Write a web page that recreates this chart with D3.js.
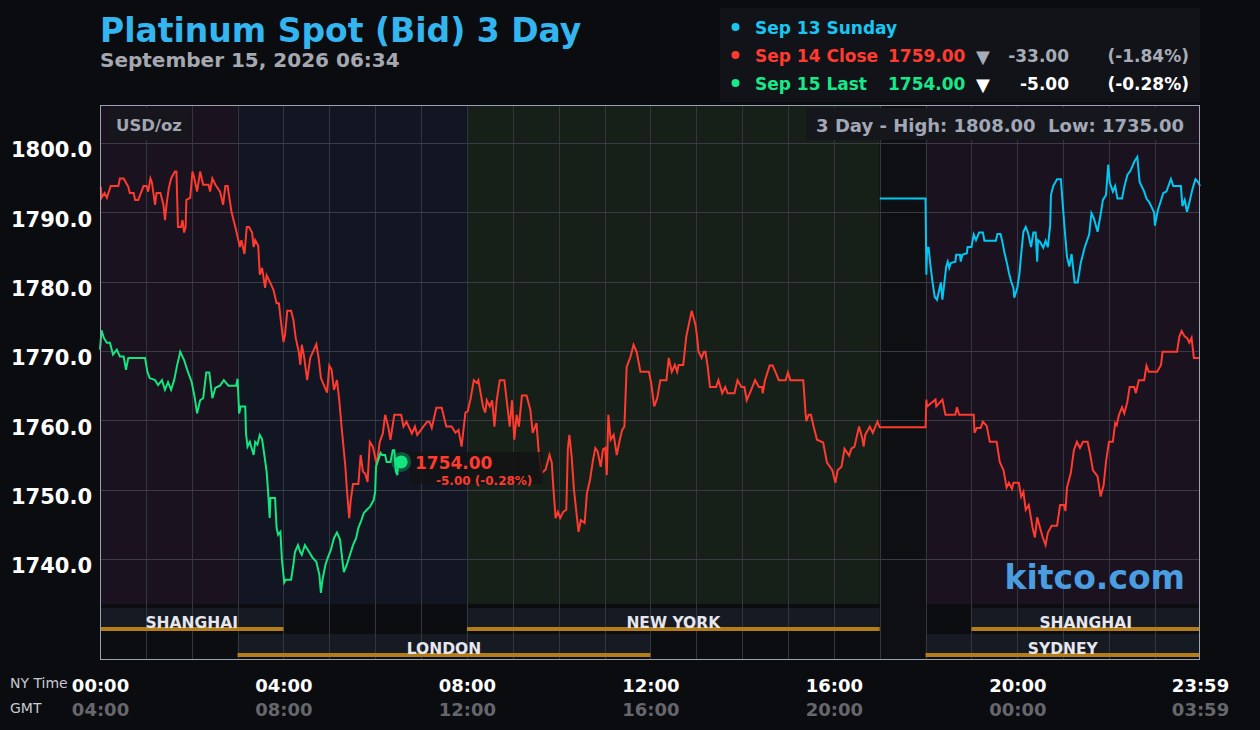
<!DOCTYPE html>
<html><head><meta charset="utf-8">
<script src="https://cdn.jsdelivr.net/npm/d3@7"></script>
<style>
html,body{margin:0;padding:0;background:#0b0c10;}
svg{display:block;font-family:"DejaVu Sans",sans-serif;}
</style></head><body><svg id="c" width="1260" height="730"></svg>
<script>
// ---- data ----
const yTicks = [1740, 1750, 1760, 1770, 1780, 1790, 1800];
const xTickMinutes = [0, 240, 480, 720, 960, 1200, 1439];
const nyLabels = ["00:00", "04:00", "08:00", "12:00", "16:00", "20:00", "23:59"];
const gmtLabels = ["04:00", "08:00", "12:00", "16:00", "20:00", "00:00", "03:59"];
const bandNames = ["pre", "london", "newyork", "closed", "asia"];
const bandStarts = [0, 180, 480, 1020, 1080];
const bandEnds = [180, 480, 1020, 1080, 1439];
const sessionNames = ["SHANGHAI", "NEW YORK", "SHANGHAI", "LONDON", "SYDNEY"];
const sessionRows = [0, 0, 0, 1, 1];
const sessionStarts = [0, 480, 1140, 180, 1080];
const sessionEnds = [240, 1020, 1439, 720, 1439];

// [minute of NY day, price]
const sep13Sunday = [[1020,1792],[1080,1792],[1081,1781],[1082,1784.9],[1084,1784.9],[1086,1782.7],[1089,1780],[1092,1777.8],[1095,1777.4],[1100,1779.9],[1102,1777.4],[1104,1779.3],[1107,1782.2],[1109,1782.9],[1111,1782],[1113,1782.7],[1119,1782.9],[1120,1783.9],[1125,1783.9],[1126,1782.9],[1128,1783.9],[1134,1784.1],[1135,1785],[1140,1785],[1143,1786.8],[1146,1786],[1150,1787.1],[1155,1787.1],[1157,1785.9],[1172,1785.9],[1174,1786.9],[1178,1786.9],[1180,1786],[1183,1784.3],[1187,1782.4],[1189,1781.3],[1192,1780],[1195,1779.1],[1196,1777.7],[1200,1779.1],[1203,1781.4],[1205,1783.9],[1208,1787.2],[1211,1787.9],[1214,1787.1],[1218,1785],[1221,1787.1],[1224,1787.1],[1226,1782.9],[1227,1786],[1230,1785.7],[1234,1784.9],[1237,1785.9],[1240,1785],[1243,1788.2],[1244,1792.5],[1247,1793.8],[1252,1794.8],[1257,1794.8],[1259,1791.8],[1262,1787.5],[1265,1783.6],[1268,1782.2],[1271,1784],[1273,1782],[1275,1779.9],[1279,1779.9],[1283,1782.7],[1288,1784.9],[1294,1786.8],[1297,1789.9],[1300,1789.2],[1305,1787.2],[1309,1789.7],[1312,1791.8],[1316,1792.5],[1319,1796.9],[1321,1794.3],[1325,1793],[1328,1793.8],[1331,1792],[1337,1792],[1340,1793.7],[1344,1795.4],[1348,1796],[1353,1797.3],[1357,1798],[1360,1794.4],[1363,1793.7],[1366,1793],[1369,1792],[1373,1791.4],[1379,1790],[1380,1788.1],[1384,1790.4],[1387,1791.4],[1391,1792.8],[1395,1793],[1401,1794.8],[1404,1793.8],[1414,1793.8],[1416,1790.9],[1419,1791.8],[1422,1790.1],[1425,1791.4],[1429,1793.3],[1433,1794.8],[1437,1794.3],[1439,1793.8]];

const sep14Close = [[1,1793.7],[2,1792.1],[6,1792.8],[9,1792.1],[11,1792.8],[14,1793.8],[24,1793.8],[26,1794.9],[31,1794.9],[37,1793.7],[39,1792.8],[44,1792.8],[46,1791.8],[50,1791.8],[57,1793.8],[61,1793.8],[63,1793],[66,1794.9],[68,1794.3],[72,1791.1],[74,1792.8],[79,1792.8],[83,1791.1],[85,1788.9],[87,1791.1],[90,1793.5],[93,1794.9],[98,1795.9],[100,1795.9],[102,1787.9],[106,1787.9],[108,1788.9],[110,1787.1],[112,1787.9],[113,1791.8],[118,1792.1],[121,1795.9],[123,1795.1],[127,1793],[131,1795.9],[135,1794],[142,1794],[144,1793],[147,1794.9],[151,1794],[157,1793],[161,1791.1],[164,1793.8],[167,1793.8],[169,1792.3],[172,1790.1],[177,1787.9],[181,1786],[183,1785],[185,1786],[189,1784],[192,1787.9],[195,1787.9],[199,1787.1],[201,1785],[203,1786],[207,1785.2],[209,1781],[212,1782],[216,1779.1],[218,1780.9],[223,1779.8],[227,1778.8],[231,1776.9],[234,1776.9],[237,1774],[240,1771.3],[242,1772.3],[245,1775.8],[250,1775.8],[253,1774.5],[256,1771.9],[260,1769.9],[262,1768],[264,1770.9],[267,1769.2],[271,1765.8],[275,1769],[283,1771],[286,1769],[289,1766.1],[297,1764],[300,1767.9],[303,1767.3],[306,1764.4],[310,1765.8],[313,1762.9],[316,1759.1],[321,1753.3],[323,1750],[326,1745.9],[328,1748.5],[331,1750.8],[338,1750.8],[341,1755],[344,1752.6],[347,1752.3],[350,1751.1],[353,1756.9],[357,1756.2],[362,1753.6],[366,1756.9],[370,1758.1],[373,1760.8],[377,1759.1],[380,1757.2],[385,1760.8],[394,1760.8],[397,1759.1],[401,1759.8],[408,1758.1],[412,1759.1],[415,1757.9],[423,1759.1],[428,1759.8],[431,1759.8],[434,1758.9],[440,1761.8],[447,1761.8],[453,1759.1],[460,1759.1],[465,1758.2],[469,1758.6],[473,1756.2],[478,1761.1],[481,1761.3],[485,1763.2],[489,1765.8],[493,1765.4],[495,1765.8],[498,1763.9],[501,1762],[504,1761.1],[506,1762.9],[510,1762],[513,1762.9],[516,1759.1],[519,1762.9],[523,1765.8],[529,1765.8],[532,1762.9],[536,1759.1],[539,1762.9],[542,1757.2],[545,1760.8],[548,1759.1],[552,1763.6],[558,1763.6],[563,1761.5],[566,1758.2],[571,1759.6],[574,1755.3],[578,1752.4],[583,1752.9],[588,1755],[591,1753.9],[593,1750.4],[596,1745.9],[599,1746.8],[602,1745.9],[606,1746.8],[610,1747.1],[612,1755.8],[614,1757.9],[617,1754.8],[620,1750],[626,1743.9],[629,1745.6],[634,1745.2],[637,1749.5],[641,1751.4],[645,1754.3],[648,1756],[651,1755.5],[655,1753.3],[658,1755.8],[661,1756],[663,1752.1],[665,1760.8],[668,1757.2],[672,1757.9],[676,1755],[680,1757.2],[683,1758.6],[686,1759.1],[689,1767.7],[694,1769.2],[698,1770.9],[702,1769.9],[707,1767],[718,1767],[721,1765.4],[725,1762],[729,1763.2],[733,1765.8],[741,1765.8],[744,1769],[748,1767],[752,1768],[755,1767],[757,1768],[763,1768],[764,1769],[767,1772.1],[774,1775.8],[779,1773.8],[781,1772.1],[783,1769.9],[787,1769],[790,1769.9],[792,1769.9],[795,1767.7],[798,1764.8],[806,1764.8],[809,1765.8],[814,1763.9],[818,1764.8],[821,1763.9],[830,1763.9],[834,1765.8],[839,1764.8],[843,1764.8],[846,1762.9],[850,1763.9],[857,1765.8],[862,1764.8],[866,1764.8],[867,1763.9],[870,1765.8],[876,1767.9],[880,1767.9],[884,1766.9],[888,1765.8],[897,1765.8],[900,1766.9],[903,1765.8],[920,1765.8],[923,1761],[924,1759.9],[927,1760.8],[930,1760.8],[934,1758.9],[938,1757.2],[946,1756.8],[951,1753.9],[958,1752.8],[962,1751],[965,1752.8],[970,1753.3],[974,1755.9],[980,1754.9],[983,1755.9],[987,1756.2],[993,1759.1],[997,1757.5],[999,1756.2],[1001,1757.9],[1007,1759.1],[1011,1758.2],[1017,1759.8],[1020,1759],[1080,1759],[1081,1763],[1082,1762],[1093,1763],[1094,1762],[1102,1763],[1106,1760.8],[1119,1760.8],[1121,1761.9],[1124,1760.8],[1143,1760.8],[1144,1758.2],[1147,1758.9],[1152,1758.9],[1155,1759.8],[1160,1759.2],[1164,1756.9],[1173,1756.9],[1177,1754],[1182,1752.8],[1186,1750.3],[1189,1751],[1193,1750.1],[1195,1751],[1202,1751],[1205,1749],[1208,1749.7],[1211,1747.1],[1215,1747.8],[1220,1744.5],[1223,1743.1],[1226,1746],[1233,1743.2],[1237,1742],[1240,1743.8],[1245,1744.8],[1252,1744.8],[1256,1747.8],[1261,1747.8],[1263,1746.9],[1265,1750.3],[1270,1752.4],[1274,1755.7],[1278,1756.9],[1282,1756],[1286,1756.9],[1292,1756.9],[1295,1755.3],[1299,1752.8],[1305,1751.9],[1309,1749],[1313,1750.7],[1316,1754],[1320,1756.9],[1325,1756.9],[1328,1759.6],[1330,1759.3],[1333,1760.8],[1337,1761.9],[1340,1761],[1344,1762.7],[1347,1764.8],[1353,1764.8],[1355,1763.9],[1359,1765.8],[1366,1765.8],[1369,1767.9],[1372,1767],[1383,1767],[1388,1768],[1390,1769.9],[1409,1769.9],[1412,1772.1],[1415,1772.9],[1419,1772.1],[1422,1771.9],[1425,1771.2],[1428,1771.9],[1431,1769],[1439,1769]];

const sep15Last = [[0,1770.2],[2,1773],[5,1771.9],[9,1771.2],[13,1771.2],[17,1769.5],[22,1770.2],[26,1769.2],[31,1769.2],[34,1767.3],[37,1769],[52,1769],[59,1769],[62,1767],[65,1766.1],[72,1765.8],[76,1765.1],[81,1765.8],[85,1764.4],[89,1765.5],[93,1764.4],[97,1765.8],[101,1768],[105,1769.9],[110,1768.7],[115,1767],[120,1765.5],[124,1763.2],[127,1761],[131,1762.9],[135,1763.2],[139,1766.9],[143,1766.9],[147,1763.2],[151,1764.7],[157,1765],[162,1765.8],[168,1765],[178,1765],[180,1766],[182,1761],[184,1762],[190,1762],[191,1758.1],[193,1756.2],[196,1756.9],[201,1755],[203,1756.9],[206,1756.5],[209,1757.9],[212,1757.3],[215,1755],[218,1752.6],[220,1749.5],[222,1745.9],[223,1748.8],[229,1748.8],[231,1744.5],[233,1743.5],[236,1743.9],[238,1739.9],[241,1736.6],[243,1737],[250,1737],[253,1739.2],[255,1741],[259,1742],[262,1741],[264,1740.6],[268,1742],[272,1741.3],[278,1740.2],[283,1739.6],[287,1737.7],[289,1735.1],[291,1737],[295,1739.2],[298,1740.2],[302,1741.3],[306,1743],[310,1743.8],[314,1742.8],[317,1739.9],[319,1738.1],[323,1739.2],[327,1740.6],[331,1742],[335,1743],[338,1744.5],[342,1745.6],[345,1746.6],[349,1747.1],[353,1747.5],[358,1748.5],[360,1749.7],[361,1753.3],[364,1754.3],[367,1755.3],[369,1755],[373,1755],[375,1754],[380,1754],[383,1755.7],[385,1755.7],[387,1752.6],[389,1752.1],[390,1754],[394,1754]];

const legendLabels = ["Sep 13 Sunday", "Sep 14 Close", "Sep 15 Last"];
const legendPrices = [null, "1759.00", "1754.00"];
const legendChanges = [null, "-33.00", "-5.00"];
const legendPcts = [null, "(-1.84%)", "(-0.28%)"];
const lastValue = "1754.00";
const lastChange = "-5.00 (-0.28%)";
const highLowText = "3 Day - High: 1808.00  Low: 1735.00";

// ---- drawing ----
const svg = d3.select("#c");
const L = 100, R = 1200, T = 105, PB = 604, B = 660;
const x = d3.scaleLinear().domain([0, 1439]).range([L, R]);
const y = d3.scaleLinear().domain([1733.5, 1805.5]).range([PB, T]);

const bandColor = {pre: "#1a121f", london: "#111622", newyork: "#172018", closed: "#0e0f13", asia: "#1a121f"};

svg.append("rect").attr("width", 1260).attr("height", 730).attr("fill", "#0b0c10");

// title
svg.append("text").attr("x", 100).attr("y", 42).attr("fill", "#33b6ef")
  .attr("font-size", 33).attr("font-weight", "bold").text("Platinum Spot (Bid) 3 Day");
svg.append("text").attr("x", 100).attr("y", 67).attr("fill", "#a6a8b0")
  .attr("font-size", 20).attr("font-weight", "bold").text("September 15, 2026 06:34");

// legend box
svg.append("rect").attr("x", 720).attr("y", 8).attr("width", 480).attr("height", 94).attr("fill", "#111318");
const legColors = ["#19c6f2", "#ff3b30", "#18e88a"];
const chgColors = [null, "#a8acb6", "#ffffff"];
legendLabels.forEach((lab, i) => {
  const by = 34 + i * 28;
  svg.append("circle").attr("cx", 735.5).attr("cy", by - 7).attr("r", 4).attr("fill", legColors[i]);
  svg.append("text").attr("x", 755).attr("y", by).attr("fill", legColors[i]).attr("font-size", 17)
    .attr("font-weight", "bold").text(lab);
  if (legendPrices[i]) {
    svg.append("text").attr("x", 888).attr("y", by).attr("fill", legColors[i]).attr("font-size", 17)
      .attr("font-weight", "bold").text(legendPrices[i]);
    svg.append("text").attr("x", 983).attr("y", by + 1).attr("text-anchor", "middle").attr("fill", chgColors[i])
      .attr("font-size", 18).text("▼");
    svg.append("text").attr("x", 1069).attr("y", by).attr("text-anchor", "end").attr("fill", chgColors[i])
      .attr("font-size", 17).attr("font-weight", "bold").text(legendChanges[i]);
    svg.append("text").attr("x", 1189).attr("y", by).attr("text-anchor", "end").attr("fill", chgColors[i])
      .attr("font-size", 17).attr("font-weight", "bold").text(legendPcts[i]);
  }
});

// plot background bands
const plot = svg.append("g");
plot.selectAll("rect.band").data(bandNames).join("rect").attr("class", "band")
  .attr("x", (d, i) => x(bandStarts[i])).attr("y", T)
  .attr("width", (d, i) => x(bandEnds[i]) - x(bandStarts[i])).attr("height", PB - T)
  .attr("fill", d => bandColor[d]);

// session strip
plot.append("rect").attr("x", L).attr("y", PB).attr("width", R - L).attr("height", B - PB).attr("fill", "#0c0d11");
plot.append("rect").attr("x", x(1020)).attr("y", PB).attr("width", x(1080) - x(1020)).attr("height", B - PB).attr("fill", "#0e0f13");
const rowTop = [608, 634], rowLine = [627, 653];
sessionNames.forEach((nm, i) => {
  const r = sessionRows[i];
  const x0 = x(sessionStarts[i]), x1 = x(sessionEnds[i]);
  plot.append("rect").attr("x", x0).attr("y", rowTop[r]).attr("width", x1 - x0).attr("height", rowLine[r] + 4 - rowTop[r]).attr("fill", "#151a23");
});

// grid
const hours = d3.range(1, 24).map(h => h * 60);
plot.selectAll("line.vg").data(hours).join("line").attr("class", "vg")
  .attr("x1", d => Math.round(x(d)) + 0.5).attr("x2", d => Math.round(x(d)) + 0.5)
  .attr("y1", T).attr("y2", B).attr("stroke", "#34353f").attr("stroke-width", 1);
plot.selectAll("line.hg").data(yTicks).join("line").attr("class", "hg")
  .attr("x1", L).attr("x2", R).attr("y1", d => Math.round(y(d)) + 0.5).attr("y2", d => Math.round(y(d)) + 0.5)
  .attr("stroke", "#3a3b45").attr("stroke-width", 1);

// session lines + labels
sessionNames.forEach((nm, i) => {
  const r = sessionRows[i];
  const x0 = x(sessionStarts[i]), x1 = x(sessionEnds[i]);
  plot.append("rect").attr("x", x0).attr("y", rowLine[r]).attr("width", x1 - x0).attr("height", 4).attr("fill", "#b57d17");
  plot.append("text").attr("x", (x0 + x1) / 2).attr("y", rowLine[r] + 1).attr("text-anchor", "middle")
    .attr("fill", "#e6e6ee").attr("font-size", 15.5).attr("font-weight", "bold").text(nm);
});

// y axis
const yAxis = d3.axisLeft(y).tickValues(yTicks).tickFormat(d3.format(".1f")).tickSize(0).tickPadding(0);
const ya = svg.append("g").attr("transform", "translate(92,7)").call(yAxis);
ya.select(".domain").remove();
ya.selectAll("text").attr("fill", "#ffffff").attr("font-size", 21).attr("font-weight", "bold")
  .attr("font-family", "DejaVu Sans");

// x axes
const xa1 = svg.append("g").attr("transform", "translate(0,679)")
  .call(d3.axisBottom(x).tickValues(xTickMinutes).tickFormat((d, i) => nyLabels[i]).tickSize(0).tickPadding(0));
xa1.select(".domain").remove();
xa1.selectAll("text").attr("fill", "#ffffff").attr("font-size", 18).attr("font-weight", "bold").attr("font-family", "DejaVu Sans");
const xa2 = svg.append("g").attr("transform", "translate(0,703)")
  .call(d3.axisBottom(x).tickValues(xTickMinutes).tickFormat((d, i) => gmtLabels[i]).tickSize(0).tickPadding(0));
xa2.select(".domain").remove();
xa2.selectAll("text").attr("fill", "#66676c").attr("font-size", 18).attr("font-weight", "bold").attr("font-family", "DejaVu Sans");
svg.append("text").attr("x", 10).attr("y", 688).attr("fill", "#c8c8d0").attr("font-size", 14).text("NY Time");
svg.append("text").attr("x", 10).attr("y", 713).attr("fill", "#c8c8d0").attr("font-size", 14).text("GMT");

// info boxes
svg.append("rect").attr("x", 108).attr("y", 108).attr("width", 82).attr("height", 32).attr("fill", "#16161c");
svg.append("text").attr("x", 149).attr("y", 131).attr("text-anchor", "middle").attr("fill", "#a2a6b2")
  .attr("font-size", 16.5).attr("font-weight", "bold").text("USD/oz");
svg.append("rect").attr("x", 806).attr("y", 108).attr("width", 386).attr("height", 32).attr("fill", "#16171c");
svg.append("text").attr("x", 1184).attr("y", 132).attr("text-anchor", "end").attr("fill", "#a2a8b6")
  .style("white-space", "pre").attr("xml:space", "preserve")
  .attr("font-size", 18).attr("font-weight", "bold").text(highLowText);

// kitco
svg.append("text").attr("x", 1185).attr("y", 589).attr("text-anchor", "end").attr("fill", "#4a9ee0")
  .attr("font-size", 33).attr("font-weight", "bold").text("kitco.com");

// lines
const line = d3.line().x(d => x(d[0])).y(d => y(d[1]));
const lines = [[sep13Sunday, "#00c8f2"], [sep14Close, "#ff3a2e"], [sep15Last, "#14e57e"]];
lines.forEach(([data, col]) => {
  svg.append("path").datum(data).attr("d", line).attr("fill", "none").attr("stroke", col)
    .attr("stroke-width", 2).attr("stroke-linejoin", "miter");
});

// last point
const last = sep15Last[sep15Last.length - 1];
svg.append("rect").attr("x", 410).attr("y", 452).attr("width", 133).attr("height", 32).attr("fill", "rgba(18,18,20,0.82)");
svg.append("circle").attr("cx", x(last[0])).attr("cy", y(last[1])).attr("r", 10).attr("fill", "rgba(20,229,126,0.3)");
svg.append("circle").attr("cx", x(last[0])).attr("cy", y(last[1])).attr("r", 6.5).attr("fill", "#14e57e");
svg.append("text").attr("x", 415).attr("y", 469).attr("fill", "#ff3b30").attr("font-size", 17)
  .attr("font-weight", "bold").text(lastValue);
svg.append("text").attr("x", 436).attr("y", 484.5).attr("fill", "#ff3b30").attr("font-size", 12)
  .attr("font-weight", "bold").text(lastChange);

// border
svg.append("rect").attr("x", L + 0.5).attr("y", T + 0.5).attr("width", R - L - 1).attr("height", B - T - 1)
  .attr("fill", "none").attr("stroke", "#9aa2b4").attr("stroke-width", 1);
</script></body></html>
